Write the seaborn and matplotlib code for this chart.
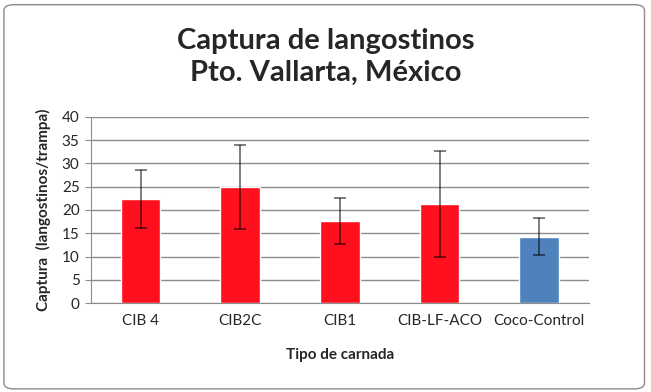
import matplotlib
matplotlib.use('Agg')
import matplotlib.pyplot as plt
import numpy as np
import pandas as pd
import seaborn as sns
from matplotlib.patches import FancyBboxPatch

# data
carnadas = ['CIB 4', 'CIB2C', 'CIB1', 'CIB-LF-ACO', 'Coco-Control']
captura = [22.4, 24.9, 17.7, 21.3, 14.3]
desv = [6.2, 9.0, 4.9, 11.3, 4.0]
colores = ['#FF101E', '#FF101E', '#FF101E', '#FF101E', '#4F81BD']

df = pd.DataFrame({'carnada': carnadas, 'captura': captura})

sns.set_style('white')
plt.rcParams['font.family'] = ['Lato', 'DejaVu Sans']

fig = plt.figure(figsize=(6.51, 3.92), dpi=100)
ax = fig.add_axes([0.1393, 0.2263, 0.7655, 0.476])

sns.barplot(data=df, x='carnada', y='captura', hue='carnada', palette=colores,
            legend=False, width=0.4, errorbar=None, ax=ax, saturation=1)
ax.errorbar(np.arange(len(carnadas)), captura, yerr=desv, fmt='none',
            ecolor='black', elinewidth=1.2, capsize=4, capthick=1.2, alpha=0.6)

ax.set_ylim(0, 40)
ax.set_yticks(range(0, 41, 5))
ax.set_xlim(-0.5, 4.5)
ax.grid(axis='y', color='#8C8C8C', linewidth=1)
ax.set_axisbelow(True)
for s in ['top', 'right']:
    ax.spines[s].set_visible(False)
ax.spines['left'].set_color('#8C8C8C')
ax.spines['bottom'].set_color('#8C8C8C')
ax.tick_params(axis='y', length=4, color='#8C8C8C', labelsize=11, pad=4, left=True)
ax.tick_params(axis='x', length=0, labelsize=11, pad=8)

ax.set_xlabel('Tipo de carnada', fontsize=11, fontweight='bold', labelpad=14)
ax.set_ylabel('Captura  (langostinos/trampa)', fontsize=11, fontweight='bold', labelpad=8)

fig.text(0.5, 0.855, 'Captura de langostinos\nPto. Vallarta, México', ha='center', va='center',
         fontsize=21, fontweight='bold', linespacing=1.25)

fig.patches.append(FancyBboxPatch((0.006, 0.008), 0.984, 0.98, boxstyle='round,pad=0,rounding_size=0.015',
                                  transform=fig.transFigure, facecolor='none', edgecolor='#8C8C8C', linewidth=1))

fig.savefig('out.png', dpi=100)
